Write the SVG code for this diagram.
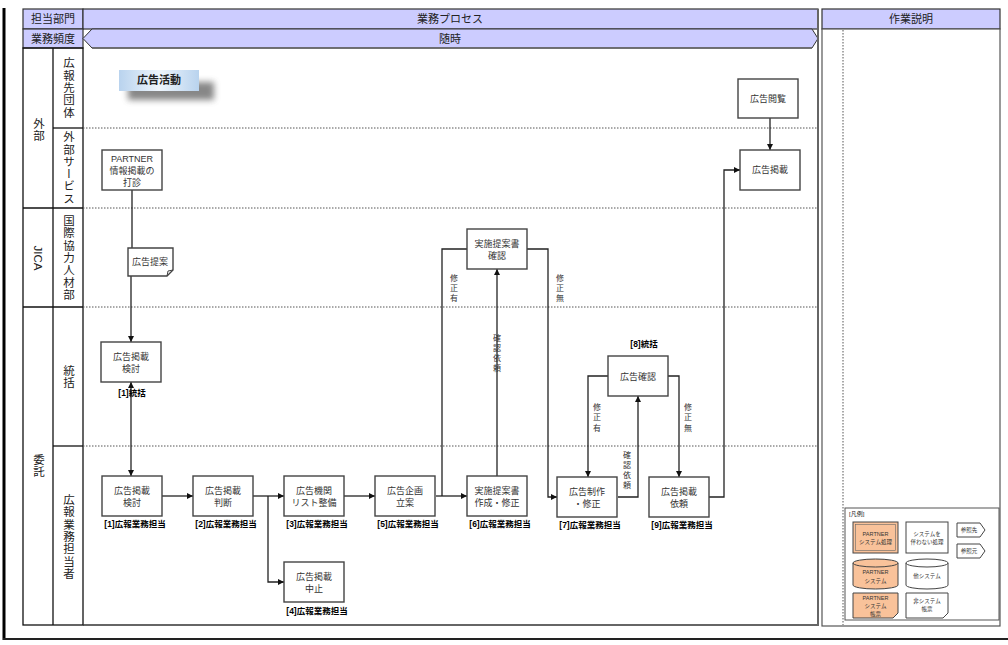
<svg xmlns="http://www.w3.org/2000/svg" width="1008" height="645" viewBox="0 0 1008 645">
<style>
text{font-family:"Liberation Sans","Noto Sans CJK JP",sans-serif;fill:#222}
.hd{fill:#ccccff;stroke:#333;stroke-width:1.2}
.hdt{font-size:11px;text-anchor:middle}
.lane{fill:none;stroke:#111;stroke-width:1.3}
.vt{writing-mode:vertical-rl;font-size:11.5px;text-anchor:middle;letter-spacing:0.8px}
.dot{stroke:#555;stroke-width:1;stroke-dasharray:1.5 1.5}
.nd{fill:#fff;stroke:#444;stroke-width:1.4}
.nt{font-size:9px;text-anchor:middle;fill:#333}
.lb{font-size:8.5px;font-weight:bold;text-anchor:middle;fill:#000}
.cn{fill:none;stroke:#222;stroke-width:1.3}
.cl{font-size:8px;text-anchor:middle;fill:#333}
.lg{font-size:5.5px;text-anchor:middle;fill:#333}
.og{fill:#f9c29a;stroke:#444;stroke-width:1}
.wh{fill:#fff;stroke:#444;stroke-width:1}
</style>
<defs>
<marker id="ar" markerWidth="6" markerHeight="6" refX="6" refY="3" orient="auto-start-reverse" markerUnits="userSpaceOnUse">
<path d="M0,0 L6,3 L0,6 z" fill="#111"/>
</marker>
<linearGradient id="tg" x1="0" y1="0" x2="1" y2="0">
<stop offset="0" stop-color="#b9d3ee"/>
<stop offset="0.5" stop-color="#eef5fc"/>
<stop offset="1" stop-color="#b9d3ee"/>
</linearGradient>
<filter id="bl" x="-30%" y="-80%" width="160%" height="260%"><feGaussianBlur stdDeviation="3"/></filter>
</defs>

<!-- outer frame -->
<g id="frame">
<line x1="4" y1="8" x2="4" y2="640" stroke="#000" stroke-width="3"/>
<line x1="3" y1="639" x2="1008" y2="639" stroke="#222" stroke-width="2"/>
</g>

<!-- header -->
<g id="header">
<rect class="hd" x="23" y="9" width="60" height="20"/>
<text class="hdt" x="53" y="23">担当部門</text>
<rect class="hd" x="83" y="9" width="735" height="20"/>
<text class="hdt" x="450" y="23">業務プロセス</text>
<rect class="hd" x="822" y="9" width="178" height="20"/>
<text class="hdt" x="911" y="23">作業説明</text>
<rect class="hd" x="23" y="29" width="60" height="19"/>
<text class="hdt" x="53" y="43">業務頻度</text>
<polygon points="83,38.5 92,29 812,29 818,38.5 812,48 92,48" fill="#ccccff" stroke="#333" stroke-width="1"/>
<line x1="92" y1="48" x2="812" y2="48" stroke="#666" stroke-width="1.5"/>
<text class="hdt" x="450" y="43">随時</text>
</g>

<!-- lanes -->
<g id="lanes">
<rect class="lane" x="23" y="48" width="60" height="577"/>
<line class="lane" x1="53" y1="48" x2="53" y2="625"/>
<line class="lane" x1="53" y1="128" x2="83" y2="128"/>
<line class="lane" x1="23" y1="208" x2="83" y2="208"/>
<line class="lane" x1="23" y1="307" x2="83" y2="307"/>
<line class="lane" x1="53" y1="446" x2="83" y2="446"/>
<line x1="83" y1="625" x2="818" y2="625" stroke="#333" stroke-width="1.3"/>
<line x1="818" y1="9" x2="818" y2="626" stroke="#666" stroke-width="2"/>
<line class="dot" x1="83" y1="128" x2="817" y2="128"/>
<line class="dot" x1="83" y1="208" x2="817" y2="208"/>
<line class="dot" x1="83" y1="307" x2="817" y2="307"/>
<line class="dot" x1="83" y1="446" x2="817" y2="446"/>
<text class="vt" x="38" y="130">外部</text>
<text class="vt" x="38" y="258" style="letter-spacing:0;font-weight:normal">JICA</text>
<text class="vt" x="38" y="466">委託</text>
<text class="vt" x="68" y="88">広報先団体</text>
<text class="vt" x="68" y="168">外部サービス</text>
<text class="vt" x="68" y="258">国際協力人材部</text>
<text class="vt" x="68" y="377">統括</text>
<text class="vt" x="68" y="537">広報業務担当者</text>
</g>

<!-- right panel -->
<g id="panel">
<rect x="822" y="29" width="178" height="597" fill="#fff" stroke="#555" stroke-width="1.2"/>
<line class="dot" x1="843" y1="30" x2="843" y2="625"/>
</g>

<!-- title -->
<g id="title">
<rect x="128" y="82" width="86" height="18" fill="#555" opacity="0.7" filter="url(#bl)"/>
<rect x="119" y="70" width="80" height="21" fill="url(#tg)"/>
<text x="159" y="84" font-size="11" font-weight="bold" text-anchor="middle" fill="#000">広告活動</text>
</g>

<!-- connectors -->
<g id="connectors">
<path class="cn" d="M132,190 V248"/>
<path class="cn" d="M131,276 V342" marker-end="url(#ar)"/>
<path class="cn" d="M131,382 V476" marker-start="url(#ar)" marker-end="url(#ar)"/>
<path class="cn" d="M162,496 H193" marker-end="url(#ar)"/>
<path class="cn" d="M253,496 H284" marker-end="url(#ar)"/>
<path class="cn" d="M268,496 V582 H284" marker-end="url(#ar)"/>
<path class="cn" d="M344,496 H375" marker-end="url(#ar)"/>
<path class="cn" d="M436,496 H467" marker-end="url(#ar)"/>
<path class="cn" d="M467,249 H442 V496"/>
<path class="cn" d="M497,476 V269" marker-end="url(#ar)"/>
<path class="cn" d="M527,249 H548 V497 H557" marker-end="url(#ar)"/>
<path class="cn" d="M608,376 H588 V477" marker-end="url(#ar)"/>
<path class="cn" d="M618,497 H638 V396" marker-end="url(#ar)"/>
<path class="cn" d="M668,376 H679 V477" marker-end="url(#ar)"/>
<path class="cn" d="M709,497 H724 V170 H740" marker-end="url(#ar)"/>
<path class="cn" d="M770,118 V150" marker-end="url(#ar)"/>
<text class="cl"><tspan x="454" y="281">修</tspan><tspan x="454" y="291">正</tspan><tspan x="454" y="301">有</tspan></text>
<text class="cl"><tspan x="560" y="281">修</tspan><tspan x="560" y="291">正</tspan><tspan x="560" y="301">無</tspan></text>
<text class="cl"><tspan x="497" y="341">確</tspan><tspan x="497" y="351">認</tspan><tspan x="497" y="361">依</tspan><tspan x="497" y="371">頼</tspan></text>
<text class="cl"><tspan x="597" y="410">修</tspan><tspan x="597" y="420">正</tspan><tspan x="597" y="431">有</tspan></text>
<text class="cl"><tspan x="688" y="410">修</tspan><tspan x="688" y="420">正</tspan><tspan x="688" y="431">無</tspan></text>
<text class="cl"><tspan x="627" y="458">確</tspan><tspan x="627" y="468">認</tspan><tspan x="627" y="478">依</tspan><tspan x="627" y="488">頼</tspan></text>
</g>

<!-- nodes -->
<g id="n-partner">
<rect class="nd" x="102" y="150" width="60" height="40"/>
<text class="nt" x="132" y="162" font-size="8">PARTNER</text>
<text class="nt" x="132" y="174">情報掲載の</text>
<text class="nt" x="132" y="186">打診</text>
</g>
<g id="n-teian">
<path class="nd" d="M128,248 H173 V270 L167,276 H128 Z"/>
<path d="M167,276 L168,271 L173,270" fill="none" stroke="#444" stroke-width="1"/>
<text class="nt" x="150" y="265" font-size="8">広告提案</text>
</g>
<g id="n-kento1">
<rect class="nd" x="101" y="342" width="60" height="40"/>
<text class="nt" x="131" y="360">広告掲載</text>
<text class="nt" x="131" y="372">検討</text>
<text class="lb" x="132" y="396">[1]統括</text>
</g>
<g id="n-kento2">
<rect class="nd" x="102" y="476" width="60" height="40"/>
<text class="nt" x="132" y="494">広告掲載</text>
<text class="nt" x="132" y="506">検討</text>
<text class="lb" x="135" y="527">[1]広報業務担当</text>
</g>
<g id="n-handan">
<rect class="nd" x="193" y="476" width="60" height="40"/>
<text class="nt" x="223" y="494">広告掲載</text>
<text class="nt" x="223" y="506">判断</text>
<text class="lb" x="226" y="527">[2]広報業務担当</text>
</g>
<g id="n-list">
<rect class="nd" x="284" y="476" width="60" height="40"/>
<text class="nt" x="314" y="494">広告機関</text>
<text class="nt" x="314" y="506">リスト整備</text>
<text class="lb" x="317" y="527">[3]広報業務担当</text>
</g>
<g id="n-chushi">
<rect class="nd" x="284" y="562" width="60" height="40"/>
<text class="nt" x="314" y="580">広告掲載</text>
<text class="nt" x="314" y="592">中止</text>
<text class="lb" x="317" y="614">[4]広報業務担当</text>
</g>
<g id="n-kikaku">
<rect class="nd" x="375" y="476" width="60" height="40"/>
<text class="nt" x="405" y="494">広告企画</text>
<text class="nt" x="405" y="506">立案</text>
<text class="lb" x="408" y="527">[5]広報業務担当</text>
</g>
<g id="n-sakusei">
<rect class="nd" x="467" y="476" width="60" height="40"/>
<text class="nt" x="497" y="494">実施提案書</text>
<text class="nt" x="497" y="506">作成・修正</text>
<text class="lb" x="500" y="527">[6]広報業務担当</text>
</g>
<g id="n-kakunin">
<rect class="nd" x="467" y="229" width="60" height="40"/>
<text class="nt" x="497" y="247">実施提案書</text>
<text class="nt" x="497" y="259">確認</text>
</g>
<g id="n-seisaku">
<rect class="nd" x="557" y="477" width="60" height="40"/>
<text class="nt" x="587" y="495">広告制作</text>
<text class="nt" x="587" y="507">・修正</text>
<text class="lb" x="590" y="528">[7]広報業務担当</text>
</g>
<g id="n-kokoku-kakunin">
<rect class="nd" x="608" y="356" width="60" height="40"/>
<text class="nt" x="638" y="380">広告確認</text>
<text class="lb" x="644" y="347">[8]統括</text>
</g>
<g id="n-irai">
<rect class="nd" x="649" y="477" width="60" height="40"/>
<text class="nt" x="679" y="495">広告掲載</text>
<text class="nt" x="679" y="507">依頼</text>
<text class="lb" x="682" y="528">[9]広報業務担当</text>
</g>
<g id="n-etsuran">
<rect class="nd" x="738" y="79" width="60" height="39"/>
<text class="nt" x="768" y="102">広告閲覧</text>
</g>
<g id="n-keisai">
<rect class="nd" x="740" y="150" width="60" height="40"/>
<text class="nt" x="770" y="173">広告掲載</text>
</g>

<!-- legend -->
<g id="legend">
<rect x="845" y="508" width="154" height="112" fill="#fff" stroke="#555" stroke-width="1"/>
<text x="849" y="516" font-size="6" fill="#333">[凡例]</text>
<rect class="og" x="853" y="522" width="45" height="31" stroke-width="2"/>
<rect x="855.5" y="524.5" width="40" height="26" fill="none" stroke="#666" stroke-width="0.6"/>
<text class="lg" x="875.5" y="536">PARTNER</text>
<text class="lg" x="875.5" y="544">システム処理</text>
<rect class="wh" x="906" y="522" width="42" height="31"/>
<text class="lg" x="927" y="536">システムを</text>
<text class="lg" x="927" y="544">伴わない処理</text>
<path class="wh" d="M957,523 H980 L985,530 L980,537 H957 Z"/>
<text class="lg" x="969" y="532">参照先</text>
<path class="wh" d="M957,544 H980 L985,551 L980,558 H957 Z"/>
<text class="lg" x="969" y="553">参照元</text>
<path class="og" d="M853,563 A22.5,4 0 0 1 898,563 V585 A22.5,4 0 0 1 853,585 Z"/>
<path d="M853,563 A22.5,4 0 0 0 898,563" fill="none" stroke="#444" stroke-width="1"/>
<text class="lg" x="875.5" y="574">PARTNER</text>
<text class="lg" x="875.5" y="583">システム</text>
<path class="wh" d="M906,563 A21,4 0 0 1 948,563 V585 A21,4 0 0 1 906,585 Z"/>
<path d="M906,563 A21,4 0 0 0 948,563" fill="none" stroke="#444" stroke-width="1"/>
<text class="lg" x="927" y="578">他システム</text>
<path class="og" d="M853,593 H898 V613 L893,618 H853 Z"/>
<text class="lg" x="875.5" y="600">PARTNER</text>
<text class="lg" x="875.5" y="608">システム</text>
<text class="lg" x="875.5" y="616">帳票</text>
<path class="wh" d="M906,593 H948 V613 L943,618 H906 Z"/>
<text class="lg" x="927" y="603">非システム</text>
<text class="lg" x="927" y="611">帳票</text>
</g>
</svg>
